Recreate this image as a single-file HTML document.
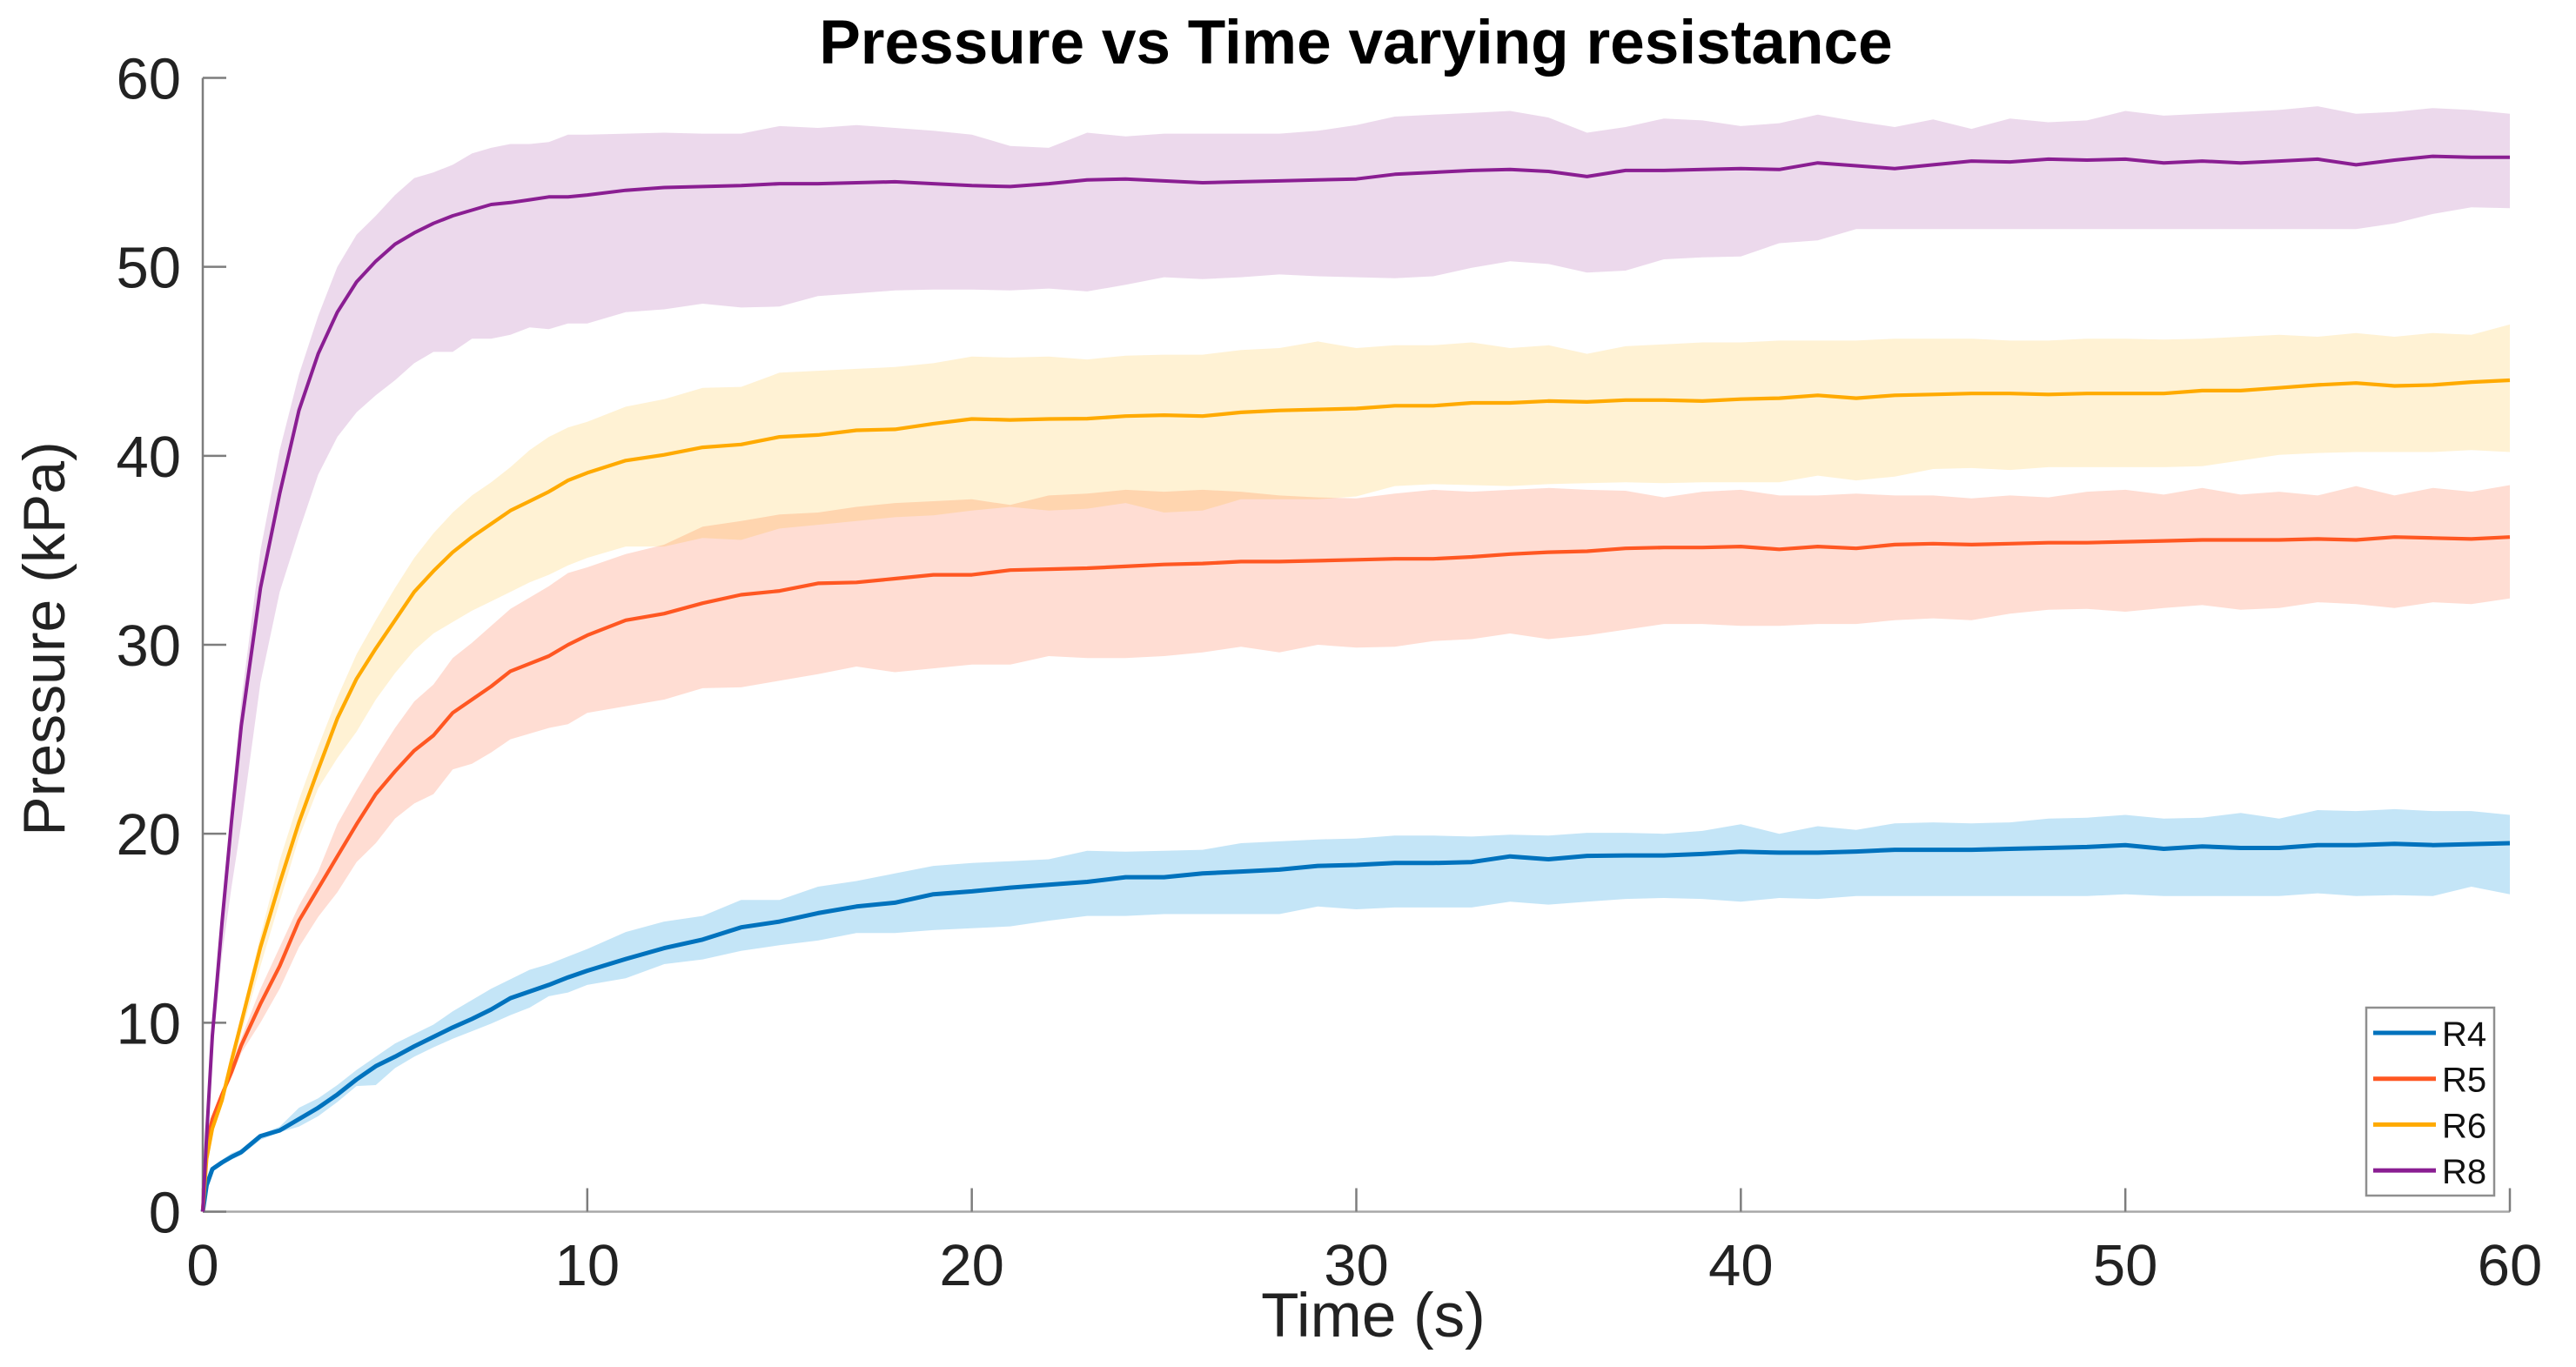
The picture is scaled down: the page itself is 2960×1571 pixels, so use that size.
<!DOCTYPE html>
<html lang="en">
<head>
<meta charset="utf-8">
<title>Pressure vs Time varying resistance</title>
<style>
html,body{margin:0;padding:0;background:#fff;}
svg{display:block;font-family:"Liberation Sans",Arial,sans-serif;}
</style>
</head>
<body>
<svg id="chart" xmlns="http://www.w3.org/2000/svg" width="2960" height="1571" viewBox="0 0 2960 1571">
<rect x="0" y="0" width="2960" height="1571" fill="#ffffff"/>
<text x="1558" y="73" text-anchor="middle" font-size="71.2" font-weight="700" fill="#000">Pressure vs Time varying resistance</text>
<text x="1578" y="1536" text-anchor="middle" font-size="71" fill="#222">Time (s)</text>
<text transform="translate(74 734) rotate(-90)" text-anchor="middle" font-size="68" fill="#222">Pressure (kPa)</text>
<g id="bands"></g>
<g id="axes"></g>
<g id="lines"></g>
<g id="legend"></g>
</svg>
<script>
const times = [0,0.1,0.25,0.5,0.75,1,1.5,2,2.5,3,3.5,4,4.5,5,5.5,6,6.5,7,7.5,8,8.5,9,9.5,10,
11,12,13,14,15,16,17,18,19,20,21,22,23,24,25,26,27,28,29,30,31,32,33,34,35,
36,37,38,39,40,41,42,43,44,45,46,47,48,49,50,51,52,53,54,55,56,57,58,59,60];

const r4Mean = [0,1.4,2.25,2.6,2.9,3.15,4,4.3,4.9,5.5,6.2,7,7.7,8.2,8.75,9.25,9.75,10.2,10.7,11.3,11.65,12,12.4,12.75,
13.37,13.95,14.4,15.05,15.35,15.8,16.15,16.35,16.8,16.95,17.15,17.3,17.45,17.7,17.7,17.9,18,18.1,18.3,18.35,18.45,18.45,18.5,18.8,18.65,
18.83,18.85,18.85,18.93,19.05,19,19,19.06,19.15,19.15,19.15,19.2,19.25,19.3,19.4,19.2,19.33,19.25,19.25,19.4,19.4,19.47,19.4,19.45,19.5];
const r4Upper = [0,1.5,2.4,2.75,3.1,3.3,4.1,4.5,5.5,6,6.7,7.5,8.2,8.9,9.4,9.9,10.6,11.2,11.8,12.3,12.8,13.1,13.5,13.9,
14.8,15.35,15.65,16.5,16.5,17.2,17.5,17.9,18.3,18.45,18.55,18.65,19.1,19.05,19.1,19.15,19.5,19.6,19.7,19.75,19.9,19.9,19.85,19.95,19.9,
20.05,20.05,20,20.15,20.5,20,20.4,20.2,20.55,20.6,20.55,20.6,20.8,20.85,21,20.8,20.85,21.1,20.8,21.25,21.2,21.3,21.2,21.2,21];
const r4Lower = [0,1.3,2.15,2.5,2.75,3,3.8,4.2,4.5,5.05,5.8,6.65,6.7,7.6,8.2,8.7,9.15,9.55,9.95,10.4,10.8,11.4,11.6,12,
12.35,13.1,13.35,13.8,14.1,14.35,14.75,14.75,14.9,15,15.1,15.4,15.65,15.65,15.75,15.75,15.75,15.75,16.15,16,16.1,16.1,16.1,16.4,16.25,
16.4,16.55,16.6,16.55,16.4,16.6,16.55,16.7,16.7,16.7,16.7,16.7,16.7,16.7,16.8,16.7,16.7,16.7,16.7,16.85,16.7,16.75,16.7,17.2,16.8];

const r5Mean = [0,3.6,4.9,6.2,7.4,8.8,11,13,15.4,17.1,18.8,20.5,22.1,23.3,24.4,25.2,26.4,27.1,27.8,28.6,29,29.4,30,30.5,
31.3,31.65,32.2,32.65,32.85,33.25,33.3,33.5,33.7,33.7,33.95,34,34.05,34.15,34.25,34.3,34.4,34.4,34.45,34.5,34.55,34.55,34.65,34.8,34.9,
34.95,35.1,35.15,35.15,35.2,35.05,35.2,35.1,35.3,35.35,35.3,35.35,35.4,35.4,35.45,35.5,35.55,35.55,35.55,35.6,35.55,35.7,35.65,35.6,35.7];
const r5Upper = [0,3.7,5,6.4,7.7,9.2,11.8,14,16.2,18,20.5,22.3,24,25.6,27,27.9,29.3,30.1,31,31.9,32.5,33.1,33.8,34.1,
34.8,35.3,36.25,36.55,36.9,37,37.3,37.5,37.6,37.7,37.4,37.9,38,38.2,38.1,38.2,38.1,37.9,37.8,37.75,38,38.2,38.1,38.2,38.3,
38.2,38.15,37.8,38.1,38.2,37.9,37.9,38,37.9,37.9,37.75,37.9,37.8,38.1,38.2,37.95,38.3,37.95,38.1,37.9,38.4,37.9,38.3,38.1,38.45];
const r5Lower = [0,3.5,4.8,6,7.1,8.4,10,11.8,14,15.6,16.9,18.5,19.5,20.8,21.6,22.1,23.4,23.7,24.3,25,25.3,25.6,25.8,26.4,
26.75,27.1,27.7,27.75,28.1,28.45,28.85,28.55,28.75,28.95,28.95,29.4,29.3,29.3,29.4,29.6,29.9,29.6,30,29.85,29.9,30.2,30.3,30.6,30.3,
30.5,30.8,31.1,31.1,31,31,31.1,31.1,31.3,31.4,31.3,31.65,31.85,31.9,31.75,31.95,32.1,31.85,31.95,32.25,32.15,31.95,32.25,32.15,32.45];

const r6Mean = [0,2.8,4.4,5.9,8,10,14,17.4,20.6,23.4,26.1,28.2,29.8,31.3,32.8,33.9,34.9,35.7,36.4,37.1,37.6,38.1,38.7,39.1,
39.75,40.05,40.45,40.6,41,41.1,41.35,41.4,41.7,41.95,41.9,41.95,41.97,42.1,42.15,42.1,42.3,42.4,42.45,42.5,42.65,42.65,42.8,42.8,42.9,
42.85,42.95,42.95,42.9,43,43.05,43.2,43.05,43.2,43.25,43.3,43.3,43.25,43.3,43.3,43.3,43.45,43.45,43.6,43.75,43.85,43.7,43.75,43.9,44];
const r6Upper = [0,3,4.6,6.3,8.3,10.4,14.6,18.6,21.8,24.6,27.2,29.5,31.3,33,34.6,35.9,37,37.9,38.6,39.4,40.3,41,41.5,41.8,
42.6,43,43.6,43.65,44.4,44.5,44.6,44.7,44.9,45.25,45.2,45.25,45.1,45.3,45.35,45.35,45.6,45.7,46.05,45.7,45.85,45.85,46,45.7,45.85,
45.4,45.8,45.9,46,46,46.1,46.1,46.1,46.2,46.2,46.2,46.1,46.1,46.2,46.2,46.15,46.2,46.3,46.4,46.3,46.5,46.3,46.5,46.4,46.95];
const r6Lower = [0,2.6,4.1,5.6,7.4,9.4,13,16.4,19.8,22.4,24,25.4,27.1,28.5,29.7,30.6,31.2,31.8,32.3,32.8,33.3,33.7,34.2,34.6,
35.2,35.2,35.65,35.55,36.15,36.35,36.55,36.75,36.85,37.1,37.3,37.1,37.2,37.5,37,37.1,37.7,37.7,37.7,37.85,38.4,38.5,38.45,38.4,38.5,
38.55,38.6,38.55,38.6,38.6,38.6,38.95,38.7,38.9,39.3,39.35,39.25,39.4,39.4,39.4,39.4,39.45,39.75,40.05,40.15,40.2,40.2,40.2,40.3,40.2];

const r8Mean = [0,4,9.3,15.3,20.7,25.7,33,38,42.4,45.4,47.6,49.2,50.3,51.2,51.8,52.3,52.7,53,53.3,53.4,53.55,53.7,53.7,53.8,
54.05,54.2,54.25,54.3,54.4,54.4,54.45,54.5,54.4,54.3,54.25,54.4,54.6,54.65,54.55,54.45,54.5,54.55,54.6,54.65,54.9,55,55.1,55.15,55.05,
54.78,55.1,55.1,55.15,55.2,55.15,55.5,55.35,55.2,55.4,55.6,55.55,55.7,55.65,55.7,55.5,55.6,55.5,55.6,55.7,55.4,55.65,55.85,55.8,55.8];
const r8Upper = [0,4.4,9.8,15.8,21.6,27,35,40.3,44.3,47.4,50,51.7,52.7,53.8,54.7,55,55.4,56,56.3,56.5,56.5,56.6,57,57,
57.05,57.1,57.05,57.05,57.45,57.35,57.5,57.35,57.2,57,56.4,56.3,57.1,56.9,57.05,57.05,57.05,57.05,57.2,57.5,57.95,58.05,58.15,58.25,57.9,
57.1,57.4,57.85,57.75,57.45,57.6,58.05,57.7,57.4,57.8,57.3,57.85,57.65,57.75,58.25,58,58.1,58.2,58.3,58.5,58.1,58.2,58.4,58.3,58.1];
const r8Lower = [0,3.7,8.5,13.6,17.2,20.5,28,32.8,36,39,41,42.3,43.2,44,44.9,45.5,45.5,46.2,46.2,46.4,46.8,46.7,47,47,
47.6,47.75,48.05,47.85,47.9,48.45,48.6,48.75,48.8,48.8,48.75,48.85,48.7,49.05,49.45,49.35,49.45,49.6,49.5,49.45,49.4,49.5,49.95,50.3,50.15,
49.7,49.8,50.4,50.5,50.55,51.25,51.4,52,52,52,52,52,52,52,52,52,52,52,52,52,52,52.3,52.8,53.15,53.1];

const xTicks = [0,10,20,30,40,50,60];
const yTicks = [0,10,20,30,40,50,60];
const seriesNames = ["R4","R5","R6","R8"];

const NS = "http://www.w3.org/2000/svg";
const xScale = function (t) { return 233 + (t / 60) * 2651; };
const yScale = function (v) { return 1392.5 - (v / 60) * 1303; };
const colors = ["#0072BD","#FF5722","#FFAA00","#8A1E92"];
const fills = ["#0090DD","#FF5722","#FFB000","#8E1C91"];
const fillOpacity = [0.23,0.2,0.17,0.168];
const widths = [5,4.2,4.2,4];
const means = [r4Mean,r5Mean,r6Mean,r8Mean];
const uppers = [r4Upper,r5Upper,r6Upper,r8Upper];
const lowers = [r4Lower,r5Lower,r6Lower,r8Lower];

function make(tag, parent, attrs) {
  const el = document.createElementNS(NS, tag);
  Object.keys(attrs).forEach(function (k) { el.setAttribute(k, attrs[k]); });
  parent.appendChild(el);
  return el;
}
function pts(values) {
  return values.map(function (v, i) { return xScale(times[i]).toFixed(1) + "," + yScale(v).toFixed(1); });
}

const bandsG = document.getElementById("bands");
const linesG = document.getElementById("lines");
const axesG = document.getElementById("axes");
const legendG = document.getElementById("legend");

seriesNames.forEach(function (name, s) {
  const band = make("polygon", bandsG, {
    points: pts(uppers[s]).concat(pts(lowers[s]).reverse()).join(" "),
    fill: fills[s], "fill-opacity": fillOpacity[s], stroke: "none"
  });
  
  
  const line = make("polyline", linesG, {
    points: pts(means[s]).join(" "),
    fill: "none", stroke: colors[s], "stroke-width": widths[s], "stroke-linejoin": "round"
  });
  
  
});

const axisColor = "#7d7d7d";
const yAxis = make("line", axesG, { x1: xScale(0), y1: yScale(60), x2: xScale(0), y2: yScale(0), stroke: axisColor, "stroke-width": 2.5 });


const xAxis = make("line", axesG, { x1: xScale(0), y1: yScale(0), x2: xScale(60), y2: yScale(0), stroke: "#a8a8a8", "stroke-width": 2.5 });



xTicks.forEach(function (t) {
  const tick = make("line", axesG, { x1: xScale(t), y1: yScale(0), x2: xScale(t), y2: yScale(0) - 27, stroke: axisColor, "stroke-width": 2.5 });
  
  
  const label = make("text", axesG, { x: xScale(t), y: 1477, "text-anchor": "middle", "font-size": 67, fill: "#222" });
  label.textContent = String(t);
  
  
});
yTicks.forEach(function (v) {
  const tick = make("line", axesG, { x1: xScale(0), y1: yScale(v), x2: xScale(0) + 27, y2: yScale(v), stroke: axisColor, "stroke-width": 2.5 });
  
  
  const label = make("text", axesG, { x: 208, y: yScale(v) + 24, "text-anchor": "end", "font-size": 67, fill: "#222" });
  label.textContent = String(v);
  
  
});

const legendBox = make("rect", legendG, { x: 2719, y: 1158, width: 147, height: 216, fill: "#fff", stroke: "#8f8f8f", "stroke-width": 2.5 });


seriesNames.forEach(function (name, s) {
  const rowY = 1187 + s * 52.7;
  const swatch = make("line", legendG, { x1: 2727, y1: rowY, x2: 2799, y2: rowY, stroke: colors[s], "stroke-width": 5 });
  
  
  const label = make("text", legendG, { x: 2806, y: rowY + 15, "font-size": 40, fill: "#111" });
  label.textContent = name;
  
  
});
</script>
</body>
</html>
